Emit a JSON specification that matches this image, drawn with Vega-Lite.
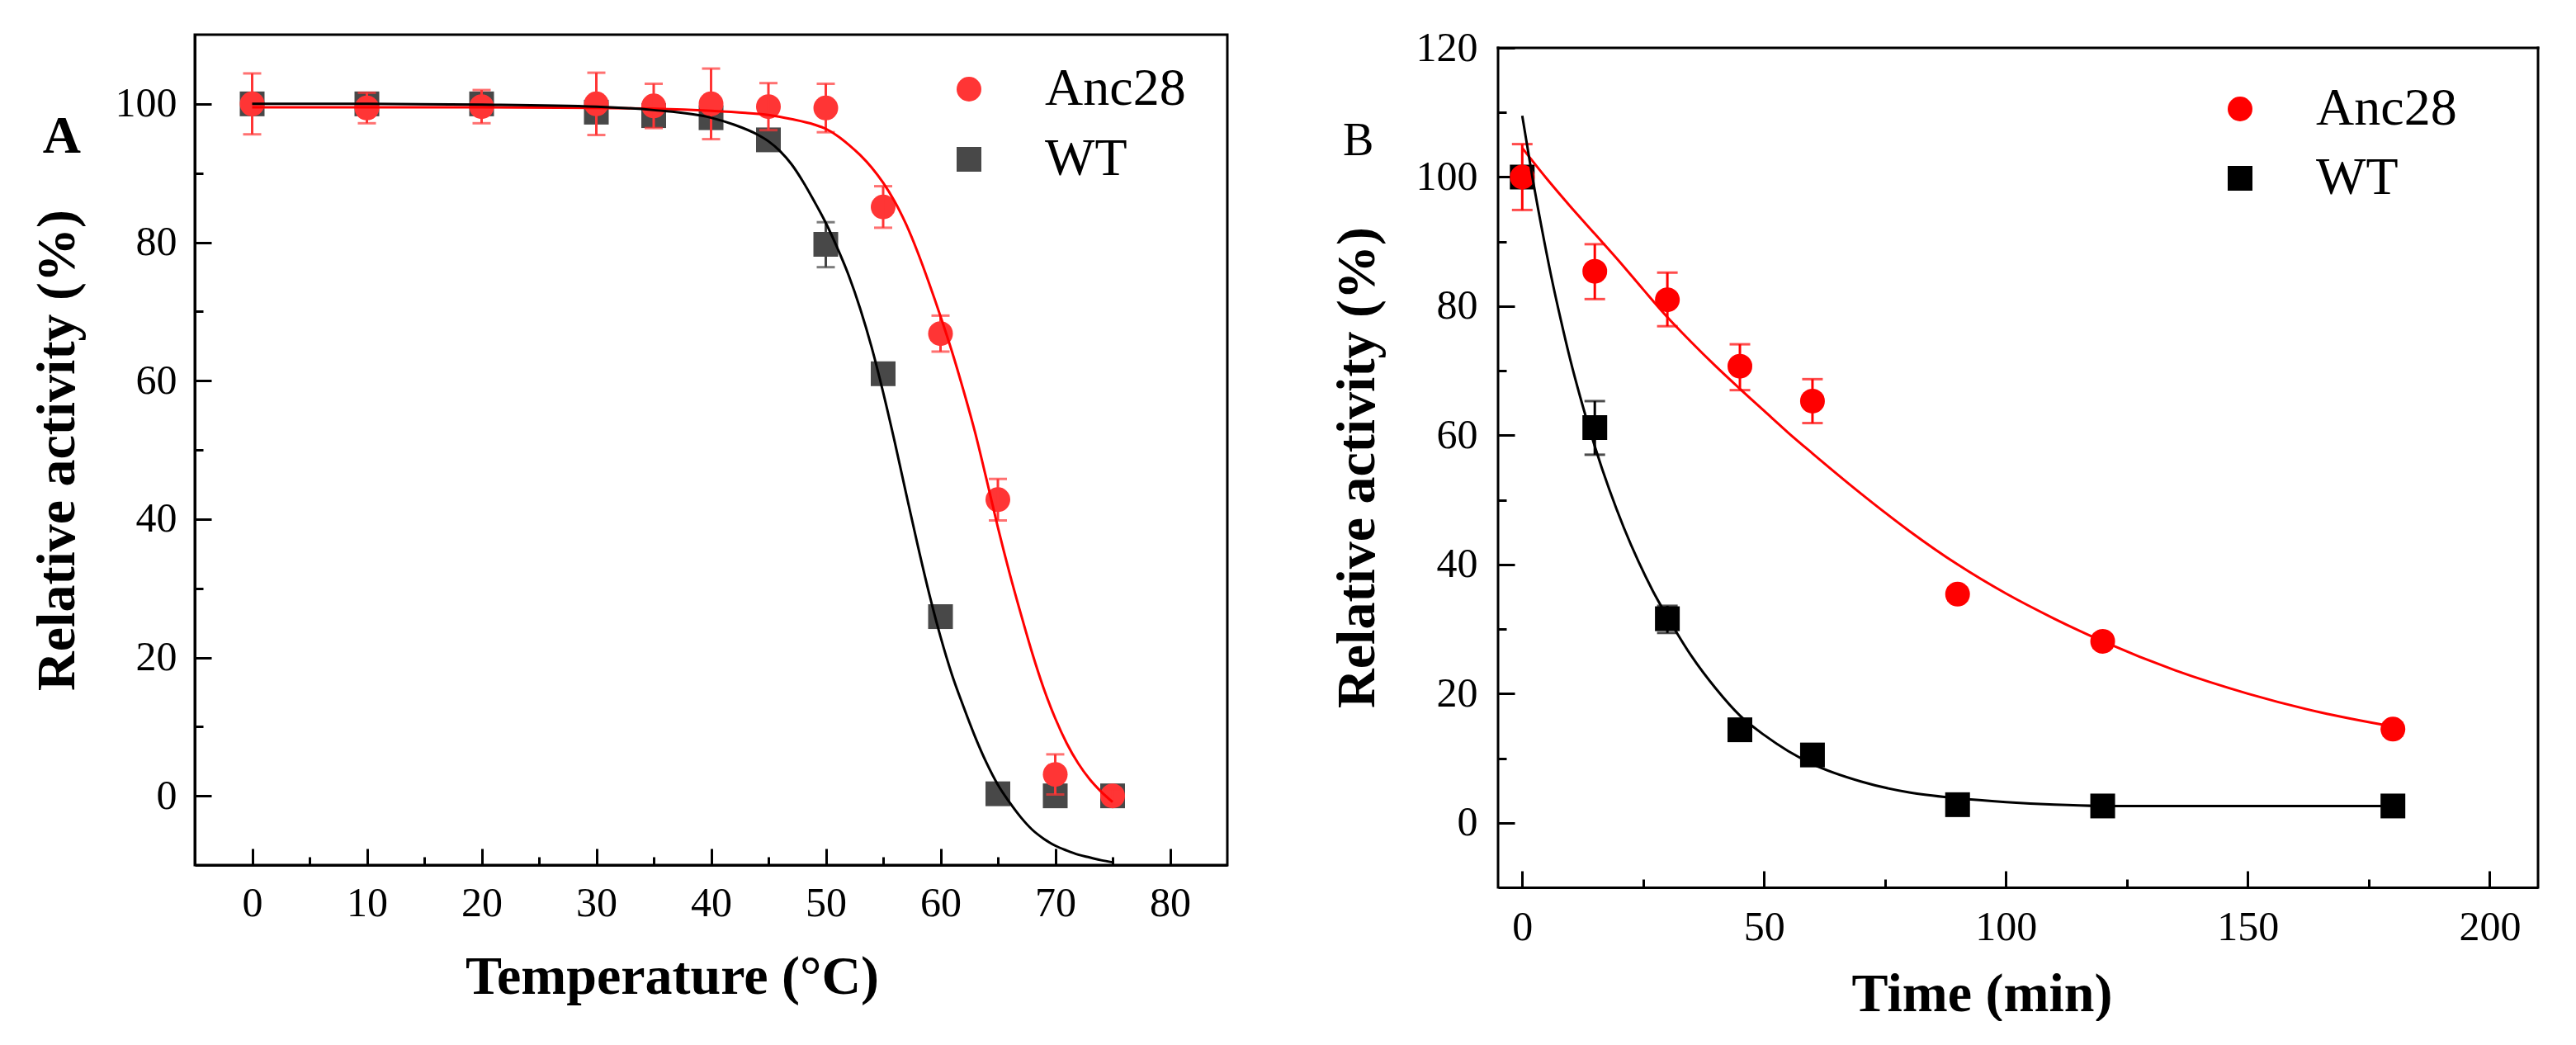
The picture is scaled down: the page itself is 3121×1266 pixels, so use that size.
{
  "$schema": "https://vega.github.io/schema/vega-lite/v6.json",
  "background": "white",
  "padding": {"left": 34, "top": 33, "right": 10, "bottom": 0},
  "spacing": 122,
  "bounds": "full",
  "align": "none",
  "config": {
    "font": "Liberation Serif",
    "view": {"stroke": "black", "strokeWidth": 3},
    "axis": {
      "grid": false,
      "domainColor": "black",
      "domainWidth": 3,
      "tickColor": "black",
      "tickWidth": 3,
      "labelFont": "Liberation Serif",
      "labelFontSize": 50,
      "labelColor": "black",
      "labelFlush": false,
      "labelOverlap": false,
      "titleFont": "Liberation Serif",
      "titleFontSize": 66,
      "titleFontWeight": "bold",
      "titleColor": "black"
    },
    "legend": {
      "labelFont": "Liberation Serif",
      "labelFontSize": 64,
      "labelColor": "black",
      "labelLimit": 0,
      "padding": 0
    }
  },
  "datasets": {
    "tempPts": [
      {"series": "WT", "temp": 0, "y": 100, "lo": 98.5, "hi": 101.5},
      {"series": "WT", "temp": 10, "y": 100, "lo": 98.8, "hi": 101.2},
      {"series": "WT", "temp": 20, "y": 100, "lo": 99, "hi": 101},
      {"series": "WT", "temp": 30, "y": 98.8, "lo": 97.8, "hi": 99.8},
      {"series": "WT", "temp": 35, "y": 98.3, "lo": 97.3, "hi": 99.3},
      {"series": "WT", "temp": 40, "y": 98.0, "lo": 96.8, "hi": 99.2},
      {"series": "WT", "temp": 45, "y": 94.8, "lo": 93.8, "hi": 95.8},
      {"series": "WT", "temp": 50, "y": 79.7, "lo": 76.4, "hi": 82.9},
      {"series": "WT", "temp": 55, "y": 61.0, "lo": 60.0, "hi": 62.0},
      {"series": "WT", "temp": 60, "y": 25.9, "lo": 25.1, "hi": 26.7},
      {"series": "WT", "temp": 65, "y": 0.3, "lo": -0.2, "hi": 0.8},
      {"series": "WT", "temp": 70, "y": 0, "lo": -0.5, "hi": 0.5},
      {"series": "WT", "temp": 75, "y": 0, "lo": -1, "hi": 1},
      {"series": "Anc28", "temp": 0, "y": 100, "lo": 95.6, "hi": 104.4},
      {"series": "Anc28", "temp": 10, "y": 99.4, "lo": 97.2, "hi": 101.6},
      {"series": "Anc28", "temp": 20, "y": 99.6, "lo": 97.2, "hi": 102.0},
      {"series": "Anc28", "temp": 30, "y": 100, "lo": 95.5, "hi": 104.5},
      {"series": "Anc28", "temp": 35, "y": 99.7, "lo": 96.5, "hi": 102.9},
      {"series": "Anc28", "temp": 40, "y": 100, "lo": 94.9, "hi": 105.1},
      {"series": "Anc28", "temp": 45, "y": 99.6, "lo": 96.2, "hi": 103.0},
      {"series": "Anc28", "temp": 50, "y": 99.4, "lo": 95.9, "hi": 102.9},
      {"series": "Anc28", "temp": 55, "y": 85.1, "lo": 82.1, "hi": 88.1},
      {"series": "Anc28", "temp": 60, "y": 66.8, "lo": 64.2, "hi": 69.4},
      {"series": "Anc28", "temp": 65, "y": 42.8, "lo": 39.8, "hi": 45.8},
      {"series": "Anc28", "temp": 70, "y": 3.1, "lo": 0.2, "hi": 6.0},
      {"series": "Anc28", "temp": 75, "y": 0, "lo": -1, "hi": 1}
    ],
    "tempFit": [
      {"series": "WT", "temp": 0, "y": 100}, {"series": "WT", "temp": 10, "y": 100},
      {"series": "WT", "temp": 20, "y": 99.9}, {"series": "WT", "temp": 30, "y": 99.6},
      {"series": "WT", "temp": 35, "y": 99.1}, {"series": "WT", "temp": 40, "y": 98.0},
      {"series": "WT", "temp": 42, "y": 97.0}, {"series": "WT", "temp": 44, "y": 95.6},
      {"series": "WT", "temp": 45, "y": 94.6}, {"series": "WT", "temp": 46, "y": 93.2},
      {"series": "WT", "temp": 47, "y": 91.3}, {"series": "WT", "temp": 48, "y": 88.8},
      {"series": "WT", "temp": 49, "y": 85.9}, {"series": "WT", "temp": 50, "y": 82.8},
      {"series": "WT", "temp": 51, "y": 79.2}, {"series": "WT", "temp": 52, "y": 75.2},
      {"series": "WT", "temp": 53, "y": 70.4}, {"series": "WT", "temp": 54, "y": 64.8},
      {"series": "WT", "temp": 55, "y": 58.3}, {"series": "WT", "temp": 56, "y": 51.2},
      {"series": "WT", "temp": 57, "y": 43.7}, {"series": "WT", "temp": 58, "y": 36.3},
      {"series": "WT", "temp": 59, "y": 29.3}, {"series": "WT", "temp": 60, "y": 23.0},
      {"series": "WT", "temp": 61, "y": 17.5}, {"series": "WT", "temp": 62, "y": 12.9},
      {"series": "WT", "temp": 63, "y": 8.6}, {"series": "WT", "temp": 64, "y": 4.8},
      {"series": "WT", "temp": 65, "y": 1.6}, {"series": "WT", "temp": 66, "y": -0.9},
      {"series": "WT", "temp": 67, "y": -3.1}, {"series": "WT", "temp": 68, "y": -4.9},
      {"series": "WT", "temp": 69, "y": -6.2}, {"series": "WT", "temp": 70, "y": -7.2},
      {"series": "WT", "temp": 71, "y": -7.9}, {"series": "WT", "temp": 72, "y": -8.5},
      {"series": "WT", "temp": 73, "y": -8.9}, {"series": "WT", "temp": 74, "y": -9.3},
      {"series": "WT", "temp": 75, "y": -9.6},
      {"series": "Anc28", "temp": 0, "y": 99.5}, {"series": "Anc28", "temp": 10, "y": 99.5},
      {"series": "Anc28", "temp": 20, "y": 99.5}, {"series": "Anc28", "temp": 30, "y": 99.4},
      {"series": "Anc28", "temp": 35, "y": 99.3}, {"series": "Anc28", "temp": 40, "y": 99.0},
      {"series": "Anc28", "temp": 43, "y": 98.7}, {"series": "Anc28", "temp": 45, "y": 98.4},
      {"series": "Anc28", "temp": 47, "y": 97.8}, {"series": "Anc28", "temp": 49, "y": 97.0},
      {"series": "Anc28", "temp": 50, "y": 96.4}, {"series": "Anc28", "temp": 51, "y": 95.4},
      {"series": "Anc28", "temp": 52, "y": 94.1}, {"series": "Anc28", "temp": 53, "y": 92.6},
      {"series": "Anc28", "temp": 54, "y": 90.8}, {"series": "Anc28", "temp": 55, "y": 88.6},
      {"series": "Anc28", "temp": 56, "y": 85.9}, {"series": "Anc28", "temp": 57, "y": 82.6},
      {"series": "Anc28", "temp": 58, "y": 78.6}, {"series": "Anc28", "temp": 59, "y": 74.1},
      {"series": "Anc28", "temp": 60, "y": 69.3}, {"series": "Anc28", "temp": 61, "y": 64.2},
      {"series": "Anc28", "temp": 62, "y": 58.6}, {"series": "Anc28", "temp": 63, "y": 52.6},
      {"series": "Anc28", "temp": 64, "y": 45.8}, {"series": "Anc28", "temp": 65, "y": 38.8},
      {"series": "Anc28", "temp": 66, "y": 32.3}, {"series": "Anc28", "temp": 67, "y": 26.3},
      {"series": "Anc28", "temp": 68, "y": 20.6}, {"series": "Anc28", "temp": 69, "y": 15.5},
      {"series": "Anc28", "temp": 70, "y": 11.2}, {"series": "Anc28", "temp": 71, "y": 7.6},
      {"series": "Anc28", "temp": 72, "y": 4.7}, {"series": "Anc28", "temp": 73, "y": 2.4},
      {"series": "Anc28", "temp": 74, "y": 0.6}, {"series": "Anc28", "temp": 75, "y": -0.9}
    ],
    "timePts": [
      {"series": "WT", "time": 0, "y": 100, "lo": 99, "hi": 101},
      {"series": "WT", "time": 15, "y": 61.2, "lo": 57.0, "hi": 65.3},
      {"series": "WT", "time": 30, "y": 31.6, "lo": 29.4, "hi": 33.6},
      {"series": "WT", "time": 45, "y": 14.4, "lo": 13.4, "hi": 15.4},
      {"series": "WT", "time": 60, "y": 10.5, "lo": 9.5, "hi": 11.5},
      {"series": "WT", "time": 90, "y": 2.8, "lo": 2.0, "hi": 3.6},
      {"series": "WT", "time": 120, "y": 2.6, "lo": 1.8, "hi": 3.4},
      {"series": "WT", "time": 180, "y": 2.6, "lo": 1.8, "hi": 3.4},
      {"series": "Anc28", "time": 0, "y": 100, "lo": 94.9, "hi": 105.1},
      {"series": "Anc28", "time": 15, "y": 85.4, "lo": 81.1, "hi": 89.6},
      {"series": "Anc28", "time": 30, "y": 81.0, "lo": 76.9, "hi": 85.2},
      {"series": "Anc28", "time": 45, "y": 70.7, "lo": 67.0, "hi": 74.1},
      {"series": "Anc28", "time": 60, "y": 65.3, "lo": 61.9, "hi": 68.7},
      {"series": "Anc28", "time": 90, "y": 35.4, "lo": 34.4, "hi": 36.4},
      {"series": "Anc28", "time": 120, "y": 28.1, "lo": 27.1, "hi": 29.1},
      {"series": "Anc28", "time": 180, "y": 14.5, "lo": 13.5, "hi": 15.5}
    ],
    "timeFit": [
      {"series": "Anc28", "time": 0, "y": 104.5}, {"series": "Anc28", "time": 5, "y": 99.8},
      {"series": "Anc28", "time": 10, "y": 95.4}, {"series": "Anc28", "time": 15, "y": 91.2},
      {"series": "Anc28", "time": 20, "y": 87.0}, {"series": "Anc28", "time": 25, "y": 82.6},
      {"series": "Anc28", "time": 30, "y": 78.3}, {"series": "Anc28", "time": 35, "y": 74.4},
      {"series": "Anc28", "time": 40, "y": 70.7}, {"series": "Anc28", "time": 45, "y": 67.2},
      {"series": "Anc28", "time": 50, "y": 63.8}, {"series": "Anc28", "time": 55, "y": 60.4},
      {"series": "Anc28", "time": 60, "y": 57.2}, {"series": "Anc28", "time": 70, "y": 51.0},
      {"series": "Anc28", "time": 80, "y": 45.2}, {"series": "Anc28", "time": 90, "y": 40.0},
      {"series": "Anc28", "time": 100, "y": 35.5}, {"series": "Anc28", "time": 110, "y": 31.6},
      {"series": "Anc28", "time": 120, "y": 28.1}, {"series": "Anc28", "time": 135, "y": 23.6},
      {"series": "Anc28", "time": 150, "y": 20.0}, {"series": "Anc28", "time": 165, "y": 17.1},
      {"series": "Anc28", "time": 180, "y": 14.9},
      {"series": "WT", "time": 0, "y": 109.5}, {"series": "WT", "time": 2, "y": 100.4},
      {"series": "WT", "time": 4, "y": 92.2}, {"series": "WT", "time": 6, "y": 84.6},
      {"series": "WT", "time": 8, "y": 77.8}, {"series": "WT", "time": 10, "y": 71.5},
      {"series": "WT", "time": 12, "y": 65.9}, {"series": "WT", "time": 15, "y": 58.3},
      {"series": "WT", "time": 18, "y": 51.6}, {"series": "WT", "time": 21, "y": 45.7},
      {"series": "WT", "time": 24, "y": 40.5}, {"series": "WT", "time": 27, "y": 35.9},
      {"series": "WT", "time": 30, "y": 31.9}, {"series": "WT", "time": 35, "y": 25.8},
      {"series": "WT", "time": 40, "y": 20.8}, {"series": "WT", "time": 45, "y": 16.6},
      {"series": "WT", "time": 50, "y": 13.6}, {"series": "WT", "time": 55, "y": 11.1},
      {"series": "WT", "time": 60, "y": 9.1}, {"series": "WT", "time": 70, "y": 6.4},
      {"series": "WT", "time": 80, "y": 4.7}, {"series": "WT", "time": 90, "y": 3.8},
      {"series": "WT", "time": 100, "y": 3.2}, {"series": "WT", "time": 110, "y": 2.8},
      {"series": "WT", "time": 120, "y": 2.6}, {"series": "WT", "time": 150, "y": 2.6},
      {"series": "WT", "time": 180, "y": 2.6}
    ],
    "panelA": [{"label": "A"}],
    "panelB": [{"label": "B"}]
  },
  "hconcat": [
    {
      "width": 1251,
      "height": 1006,
      "layer": [
        {
          "data": {"name": "tempPts"},
          "transform": [{"filter": "datum.series === 'WT'"}],
          "mark": {"type": "rule", "color": "#444444", "strokeWidth": 3},
          "encoding": {
            "x": {
              "field": "temp", "type": "quantitative",
              "scale": {"domain": [-5, 85], "nice": false, "zero": false},
              "axis": {
                "title": "Temperature (°C)",
                "values": [0, 5, 10, 15, 20, 25, 30, 35, 40, 45, 50, 55, 60, 65, 70, 75, 80],
                "labelExpr": "datum.value % 10 === 0 ? datum.label : ''",
                "tickSize": {"condition": {"test": "datum.value % 10 === 0", "value": -20}, "value": -10},
                "labelPadding": 41,
                "titleX": 578, "titleY": 155, "titleAlign": "center", "titleBaseline": "alphabetic"
              }
            },
            "y": {
              "field": "lo", "type": "quantitative",
              "scale": {"domain": [-10, 110], "nice": false, "zero": false},
              "axis": {
                "title": "Relative  activity (%)",
                "values": [0, 10, 20, 30, 40, 50, 60, 70, 80, 90, 100],
                "labelExpr": "datum.value % 20 === 0 ? datum.label : ''",
                "tickSize": {"condition": {"test": "datum.value % 20 === 0", "value": -20}, "value": -10},
                "labelPadding": 42,
                "titleX": -147, "titleY": 503, "titleAngle": -90, "titleAlign": "center", "titleBaseline": "alphabetic"
              }
            },
            "y2": {"field": "hi"}
          }
        },
        {
          "data": {"name": "tempPts"},
          "transform": [{"filter": "datum.series === 'WT'"}],
          "mark": {"type": "tick", "orient": "horizontal", "color": "#444444", "size": 22, "thickness": 3},
          "encoding": {
            "x": {"field": "temp", "type": "quantitative", "scale": {"domain": [-5, 85], "nice": false, "zero": false}},
            "y": {"field": "lo", "type": "quantitative", "scale": {"domain": [-10, 110], "nice": false, "zero": false}}
          }
        },
        {
          "data": {"name": "tempPts"},
          "transform": [{"filter": "datum.series === 'WT'"}],
          "mark": {"type": "tick", "orient": "horizontal", "color": "#444444", "size": 22, "thickness": 3},
          "encoding": {
            "x": {"field": "temp", "type": "quantitative", "scale": {"domain": [-5, 85], "nice": false, "zero": false}},
            "y": {"field": "hi", "type": "quantitative", "scale": {"domain": [-10, 110], "nice": false, "zero": false}}
          }
        },
        {
          "data": {"name": "tempPts"},
          "mark": {"type": "point", "filled": true, "size": 900, "opacity": 1, "strokeWidth": 0},
          "encoding": {
            "x": {"field": "temp", "type": "quantitative", "scale": {"domain": [-5, 85], "nice": false, "zero": false}},
            "y": {"field": "y", "type": "quantitative", "scale": {"domain": [-10, 110], "nice": false, "zero": false}},
            "color": {
              "field": "series", "type": "nominal",
              "scale": {"domain": ["Anc28", "WT"], "range": ["#FF3535", "#484848"]},
              "legend": {"title": null, "orient": "none", "legendX": 906, "legendY": 34, "symbolSize": 900, "labelOffset": 60, "rowPadding": 21, "symbolStrokeWidth": 0, "labelFontSize": 64, "labelLimit": 0}
            },
            "shape": {
              "field": "series", "type": "nominal",
              "scale": {"domain": ["Anc28", "WT"], "range": ["circle", "square"]},
              "legend": {"title": null, "orient": "none", "legendX": 906, "legendY": 34, "symbolSize": 900, "labelOffset": 60, "rowPadding": 21, "symbolStrokeWidth": 0, "labelFontSize": 64, "labelLimit": 0}
            }
          }
        },
        {
          "data": {"name": "tempPts"},
          "transform": [{"filter": "datum.series === 'Anc28'"}],
          "mark": {"type": "rule", "color": "#FF3535", "strokeWidth": 3},
          "encoding": {
            "x": {"field": "temp", "type": "quantitative", "scale": {"domain": [-5, 85], "nice": false, "zero": false}},
            "y": {"field": "lo", "type": "quantitative", "scale": {"domain": [-10, 110], "nice": false, "zero": false}},
            "y2": {"field": "hi"}
          }
        },
        {
          "data": {"name": "tempPts"},
          "transform": [{"filter": "datum.series === 'Anc28'"}],
          "mark": {"type": "tick", "orient": "horizontal", "color": "#FF3535", "size": 22, "thickness": 3},
          "encoding": {
            "x": {"field": "temp", "type": "quantitative", "scale": {"domain": [-5, 85], "nice": false, "zero": false}},
            "y": {"field": "lo", "type": "quantitative", "scale": {"domain": [-10, 110], "nice": false, "zero": false}}
          }
        },
        {
          "data": {"name": "tempPts"},
          "transform": [{"filter": "datum.series === 'Anc28'"}],
          "mark": {"type": "tick", "orient": "horizontal", "color": "#FF3535", "size": 22, "thickness": 3},
          "encoding": {
            "x": {"field": "temp", "type": "quantitative", "scale": {"domain": [-5, 85], "nice": false, "zero": false}},
            "y": {"field": "hi", "type": "quantitative", "scale": {"domain": [-10, 110], "nice": false, "zero": false}}
          }
        },
        {
          "data": {"name": "tempFit"},
          "transform": [{"filter": "datum.series === 'Anc28'"}],
          "mark": {"type": "line", "color": "#FF0000", "strokeWidth": 3, "interpolate": "monotone"},
          "encoding": {
            "x": {"field": "temp", "type": "quantitative", "scale": {"domain": [-5, 85], "nice": false, "zero": false}},
            "y": {"field": "y", "type": "quantitative", "scale": {"domain": [-10, 110], "nice": false, "zero": false}}
          }
        },
        {
          "data": {"name": "tempFit"},
          "transform": [{"filter": "datum.series === 'WT'"}],
          "mark": {"type": "line", "color": "#000000", "strokeWidth": 3, "interpolate": "monotone"},
          "encoding": {
            "x": {"field": "temp", "type": "quantitative", "scale": {"domain": [-5, 85], "nice": false, "zero": false}},
            "y": {"field": "y", "type": "quantitative", "scale": {"domain": [-10, 110], "nice": false, "zero": false}}
          }
        },
        {
          "data": {"name": "panelA"},
          "mark": {"type": "text", "font": "Liberation Serif", "fontSize": 64, "fontWeight": "bold", "align": "center", "baseline": "alphabetic", "fill": "black", "clip": false},
          "encoding": {
            "x": {"datum": -16.6, "type": "quantitative", "scale": {"domain": [-5, 85], "nice": false, "zero": false}},
            "y": {"datum": 92.9, "type": "quantitative", "scale": {"domain": [-10, 110], "nice": false, "zero": false}},
            "text": {"field": "label", "type": "nominal"}
          }
        }
      ]
    },
    {
      "width": 1260,
      "height": 1033,
      "view": {"stroke": null},
      "layer": [
        {
          "data": {"name": "timePts"},
          "transform": [{"filter": "datum.series === 'WT'"}],
          "mark": {"type": "rule", "color": "#000000", "strokeWidth": 3},
          "encoding": {
            "x": {
              "field": "time", "type": "quantitative",
              "scale": {"domain": [-5, 210], "nice": false, "zero": false},
              "axis": {
                "title": "Time (min)",
                "values": [0, 25, 50, 75, 100, 125, 150, 175, 200],
                "labelExpr": "datum.value % 50 === 0 ? datum.label : ''",
                "tickSize": {"condition": {"test": "datum.value % 50 === 0", "value": -20}, "value": -10},
                "labelPadding": 43,
                "titleX": 586, "titleY": 149, "titleAlign": "center", "titleBaseline": "alphabetic"
              }
            },
            "y": {
              "field": "lo", "type": "quantitative",
              "scale": {"domain": [-10, 122.05], "nice": false, "zero": false},
              "axis": {
                "title": "Relative activity (%)",
                "domain": false,
                "values": [0, 10, 20, 30, 40, 50, 60, 70, 80, 90, 100, 110, 120],
                "labelExpr": "datum.value % 20 === 0 ? datum.label : ''",
                "tickSize": {"condition": {"test": "datum.value % 20 === 0", "value": -20}, "value": -10},
                "labelPadding": 45,
                "titleX": -151, "titleY": 524, "titleAngle": -90, "titleAlign": "center", "titleBaseline": "alphabetic"
              }
            },
            "y2": {"field": "hi"}
          }
        },
        {
          "data": {"name": "timePts"},
          "transform": [{"filter": "datum.series === 'WT'"}],
          "mark": {"type": "tick", "orient": "horizontal", "color": "#000000", "size": 25, "thickness": 3},
          "encoding": {
            "x": {"field": "time", "type": "quantitative", "scale": {"domain": [-5, 210], "nice": false, "zero": false}},
            "y": {"field": "lo", "type": "quantitative", "scale": {"domain": [-10, 122.05], "nice": false, "zero": false}}
          }
        },
        {
          "data": {"name": "timePts"},
          "transform": [{"filter": "datum.series === 'WT'"}],
          "mark": {"type": "tick", "orient": "horizontal", "color": "#000000", "size": 25, "thickness": 3},
          "encoding": {
            "x": {"field": "time", "type": "quantitative", "scale": {"domain": [-5, 210], "nice": false, "zero": false}},
            "y": {"field": "hi", "type": "quantitative", "scale": {"domain": [-10, 122.05], "nice": false, "zero": false}}
          }
        },
        {
          "data": {"name": "timePts"},
          "mark": {"type": "point", "filled": true, "size": 900, "opacity": 1, "strokeWidth": 0},
          "encoding": {
            "x": {"field": "time", "type": "quantitative", "scale": {"domain": [-5, 210], "nice": false, "zero": false}},
            "y": {"field": "y", "type": "quantitative", "scale": {"domain": [-10, 122.05], "nice": false, "zero": false}},
            "color": {
              "field": "series", "type": "nominal",
              "scale": {"domain": ["Anc28", "WT"], "range": ["#FF0000", "#000000"]},
              "legend": {"title": null, "orient": "none", "legendX": 867, "legendY": 58, "symbolSize": 900, "labelOffset": 60, "rowPadding": 20, "symbolStrokeWidth": 0, "labelFontSize": 64, "labelLimit": 0}
            },
            "shape": {
              "field": "series", "type": "nominal",
              "scale": {"domain": ["Anc28", "WT"], "range": ["circle", "square"]},
              "legend": {"title": null, "orient": "none", "legendX": 867, "legendY": 58, "symbolSize": 900, "labelOffset": 60, "rowPadding": 20, "symbolStrokeWidth": 0, "labelFontSize": 64, "labelLimit": 0}
            }
          }
        },
        {
          "data": {"name": "timePts"},
          "transform": [{"filter": "datum.series === 'Anc28'"}],
          "mark": {"type": "rule", "color": "#FF0000", "strokeWidth": 3},
          "encoding": {
            "x": {"field": "time", "type": "quantitative", "scale": {"domain": [-5, 210], "nice": false, "zero": false}},
            "y": {"field": "lo", "type": "quantitative", "scale": {"domain": [-10, 122.05], "nice": false, "zero": false}},
            "y2": {"field": "hi"}
          }
        },
        {
          "data": {"name": "timePts"},
          "transform": [{"filter": "datum.series === 'Anc28'"}],
          "mark": {"type": "tick", "orient": "horizontal", "color": "#FF0000", "size": 25, "thickness": 3},
          "encoding": {
            "x": {"field": "time", "type": "quantitative", "scale": {"domain": [-5, 210], "nice": false, "zero": false}},
            "y": {"field": "lo", "type": "quantitative", "scale": {"domain": [-10, 122.05], "nice": false, "zero": false}}
          }
        },
        {
          "data": {"name": "timePts"},
          "transform": [{"filter": "datum.series === 'Anc28'"}],
          "mark": {"type": "tick", "orient": "horizontal", "color": "#FF0000", "size": 25, "thickness": 3},
          "encoding": {
            "x": {"field": "time", "type": "quantitative", "scale": {"domain": [-5, 210], "nice": false, "zero": false}},
            "y": {"field": "hi", "type": "quantitative", "scale": {"domain": [-10, 122.05], "nice": false, "zero": false}}
          }
        },
        {
          "data": {"name": "timeFit"},
          "transform": [{"filter": "datum.series === 'Anc28'"}],
          "mark": {"type": "line", "color": "#FF0000", "strokeWidth": 3, "interpolate": "monotone"},
          "encoding": {
            "x": {"field": "time", "type": "quantitative", "scale": {"domain": [-5, 210], "nice": false, "zero": false}},
            "y": {"field": "y", "type": "quantitative", "scale": {"domain": [-10, 122.05], "nice": false, "zero": false}}
          }
        },
        {
          "data": {"name": "timeFit"},
          "transform": [{"filter": "datum.series === 'WT'"}],
          "mark": {"type": "line", "color": "#000000", "strokeWidth": 3, "interpolate": "monotone"},
          "encoding": {
            "x": {"field": "time", "type": "quantitative", "scale": {"domain": [-5, 210], "nice": false, "zero": false}},
            "y": {"field": "y", "type": "quantitative", "scale": {"domain": [-10, 122.05], "nice": false, "zero": false}}
          }
        },
        {
          "data": {"name": "panelB"},
          "mark": {"type": "rule", "color": "black", "strokeWidth": 3, "strokeCap": "square"},
          "encoding": {
            "x": {"datum": -5, "type": "quantitative", "scale": {"domain": [-5, 210], "nice": false, "zero": false}},
            "y": {"datum": -10, "type": "quantitative", "scale": {"domain": [-10, 122.05], "nice": false, "zero": false}},
            "y2": {"datum": 120}
          }
        },
        {
          "data": {"name": "panelB"},
          "mark": {"type": "rule", "color": "black", "strokeWidth": 3, "strokeCap": "square"},
          "encoding": {
            "x": {"datum": 210, "type": "quantitative", "scale": {"domain": [-5, 210], "nice": false, "zero": false}},
            "y": {"datum": -10, "type": "quantitative", "scale": {"domain": [-10, 122.05], "nice": false, "zero": false}},
            "y2": {"datum": 120}
          }
        },
        {
          "data": {"name": "panelB"},
          "mark": {"type": "rule", "color": "black", "strokeWidth": 3, "strokeCap": "square"},
          "encoding": {
            "x": {"datum": -5, "type": "quantitative", "scale": {"domain": [-5, 210], "nice": false, "zero": false}},
            "x2": {"datum": 210},
            "y": {"datum": 120, "type": "quantitative", "scale": {"domain": [-10, 122.05], "nice": false, "zero": false}}
          }
        },
        {
          "data": {"name": "panelB"},
          "mark": {"type": "text", "font": "Liberation Serif", "fontSize": 56, "fontWeight": "normal", "align": "center", "baseline": "alphabetic", "fill": "black", "clip": false},
          "encoding": {
            "x": {"datum": -33.9, "type": "quantitative", "scale": {"domain": [-5, 210], "nice": false, "zero": false}},
            "y": {"datum": 103.4, "type": "quantitative", "scale": {"domain": [-10, 122.05], "nice": false, "zero": false}},
            "text": {"field": "label", "type": "nominal"}
          }
        }
      ]
    }
  ],
  "resolve": {
    "scale": {"x": "independent", "y": "independent", "color": "independent", "shape": "independent"},
    "legend": {"color": "independent", "shape": "independent"}
  }
}
